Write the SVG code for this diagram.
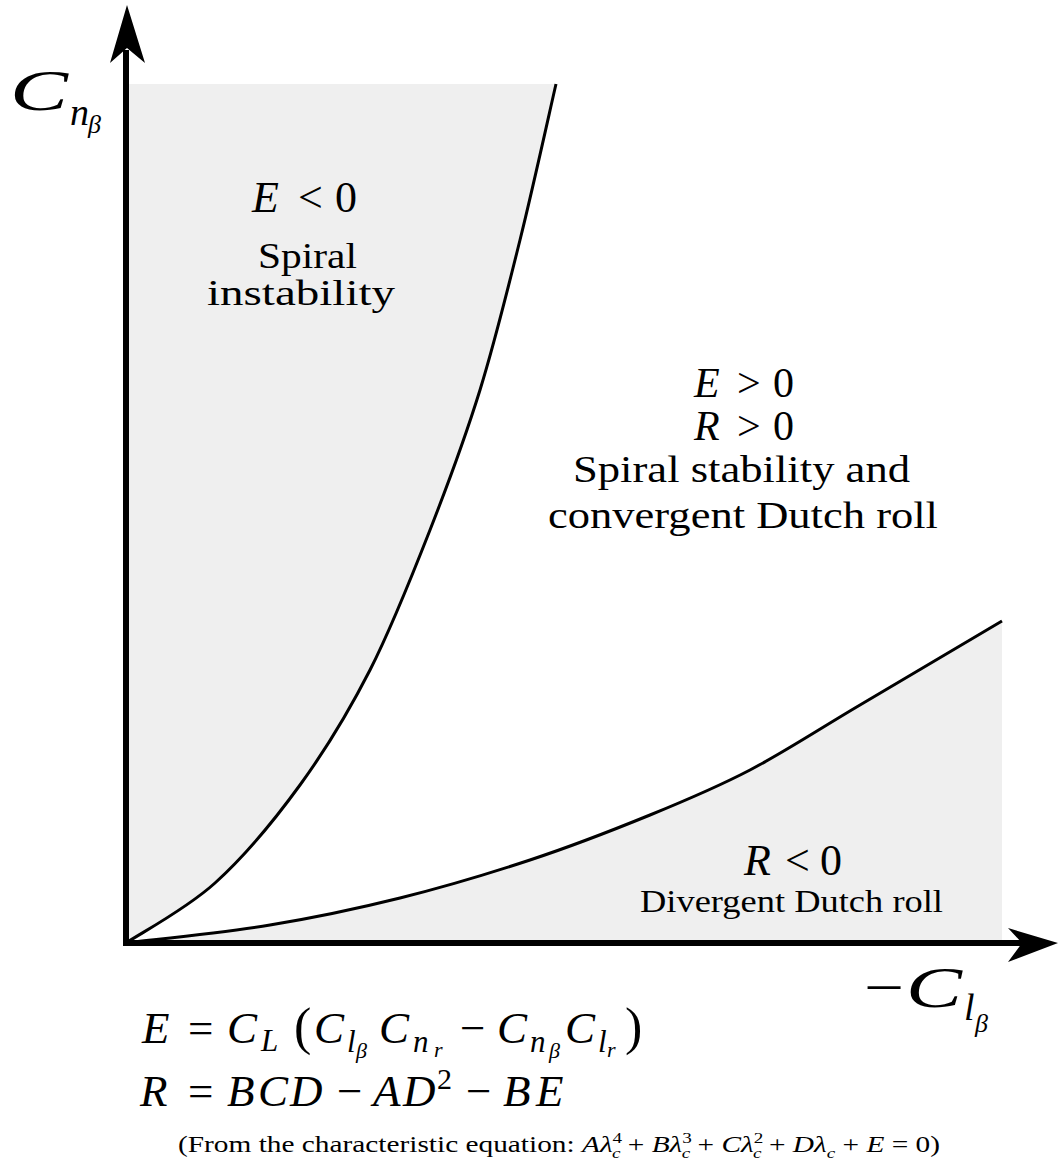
<svg xmlns="http://www.w3.org/2000/svg" width="1058" height="1161" viewBox="0 0 1058 1161">
<style>
text{font-family:"Liberation Serif","DejaVu Serif",serif;fill:#000}
.i{font-style:italic}
.m{font-size:44px}
.m2{font-size:42px}
.f{font-size:45px}
.s1{font-size:31px;font-style:italic}
.s2{font-size:22px;font-style:italic}
.curve{fill:none;stroke:#000;stroke-width:3}
.shade{fill:#efefef;stroke:none}
.axis{stroke:#000;stroke-width:6;fill:none}
</style>
<rect width="1058" height="1161" fill="#fff"/>
<g id="regions">
<path class="shade" d="M126,943 C140.8,933 186,909.3 215,883 C244,856.7 274.2,820.5 300,785 C325.8,749.5 348.3,712.5 370,670 C391.7,627.5 411.7,576.7 430,530 C448.3,483.3 465,438.3 480,390 C495,341.7 507.3,291 520,240 C532.7,189 550,110 556,84 L129,84 L129,943 Z"/>
<path class="shade" d="M126,943 C150,940 224.3,932.5 270,925 C315.7,917.5 356.7,908.8 400,898 C443.3,887.2 488.3,873.8 530,860 C571.7,846.2 613.3,830 650,815 C686.7,800 715,788.3 750,770 C785,751.7 818,729.8 860,705 C902,680.2 978.3,635 1002,621 L1002,940 L126,940 Z"/>
</g>
<g id="connectors">
<path class="curve" d="M126,943 C140.8,933 186,909.3 215,883 C244,856.7 274.2,820.5 300,785 C325.8,749.5 348.3,712.5 370,670 C391.7,627.5 411.7,576.7 430,530 C448.3,483.3 465,438.3 480,390 C495,341.7 507.3,291 520,240 C532.7,189 550,110 556,84"/>
<path class="curve" d="M126,943 C150,940 224.3,932.5 270,925 C315.7,917.5 356.7,908.8 400,898 C443.3,887.2 488.3,873.8 530,860 C571.7,846.2 613.3,830 650,815 C686.7,800 715,788.3 750,770 C785,751.7 818,729.8 860,705 C902,680.2 978.3,635 1002,621"/>
<path class="axis" d="M126,946 L126,50"/>
<path class="axis" d="M123,943 L1025,943"/>
<path d="M127,5 L145,63 L127,48 L110,63 Z" fill="#000"/>
<path d="M1058,943 L1008,928 L1022,943 L1008,962 Z" fill="#000"/>
</g>
<g id="y-label">
<text x="10" y="110" class="i" font-size="58" textLength="58" lengthAdjust="spacingAndGlyphs">C</text>
<text x="70" y="125" class="i" font-size="38">n</text>
<text x="88" y="133" class="i" font-size="26">β</text>
</g>
<g id="x-label">
<text x="864" y="1007" font-size="58" textLength="40" lengthAdjust="spacingAndGlyphs">−</text>
<text x="906" y="1007" class="i" font-size="58" textLength="56" lengthAdjust="spacingAndGlyphs">C</text>
<text x="964" y="1020" class="i" font-size="38">l</text>
<text x="975" y="1032" class="i" font-size="26">β</text>
</g>
<g id="region-spiral-instability">
<text y="212" class="m"><tspan x="252" class="i">E</tspan><tspan x="298">&lt;</tspan><tspan x="335">0</tspan></text>
<text x="258" y="268" font-size="35" textLength="99" lengthAdjust="spacingAndGlyphs">Spiral</text>
<text x="207" y="305" font-size="35" textLength="188" lengthAdjust="spacingAndGlyphs">instability</text>
</g>
<g id="region-stable">
<text y="397" class="m2"><tspan x="694" class="i">E</tspan><tspan x="737">&gt;</tspan><tspan x="773">0</tspan></text>
<text y="440" class="m2"><tspan x="694" class="i">R</tspan><tspan x="737">&gt;</tspan><tspan x="773">0</tspan></text>
<text x="573" y="482" font-size="38" textLength="337" lengthAdjust="spacingAndGlyphs">Spiral stability and</text>
<text x="548" y="528" font-size="38" textLength="390" lengthAdjust="spacingAndGlyphs">convergent Dutch roll</text>
</g>
<g id="region-divergent">
<text y="875" class="m"><tspan x="744" class="i">R</tspan><tspan x="785">&lt;</tspan><tspan x="820">0</tspan></text>
<text x="640" y="912" font-size="32" textLength="303" lengthAdjust="spacingAndGlyphs">Divergent Dutch roll</text>
</g>
<g id="formula-E">
<text class="f"><tspan x="142" y="1043" class="i">E</tspan><tspan x="188" y="1043">=</tspan><tspan x="227" y="1043" class="i">C</tspan><tspan x="261" y="1051" class="s1">L</tspan><tspan x="294" y="1044" font-size="52">(</tspan><tspan x="314" y="1043" class="i">C</tspan><tspan x="347" y="1052" class="s1">l</tspan><tspan x="356" y="1058" class="s2">β</tspan><tspan x="379" y="1043" class="i">C</tspan><tspan x="413" y="1052" class="s1">n</tspan><tspan x="434" y="1057" class="s2">r</tspan><tspan x="460" y="1043">−</tspan><tspan x="497" y="1043" class="i">C</tspan><tspan x="530" y="1052" class="s1">n</tspan><tspan x="549" y="1058" class="s2">β</tspan><tspan x="565" y="1043" class="i">C</tspan><tspan x="598" y="1052" class="s1">l</tspan><tspan x="607" y="1057" class="s2">r</tspan><tspan x="625" y="1044" font-size="52">)</tspan></text>
</g>
<g id="formula-R">
<text class="f"><tspan x="140" y="1106" class="i">R</tspan><tspan x="188" y="1106">=</tspan><tspan x="227" y="1106" class="i">B</tspan><tspan x="258" y="1106" class="i">C</tspan><tspan x="290" y="1106" class="i">D</tspan><tspan x="337" y="1106">−</tspan><tspan x="373" y="1106" class="i">A</tspan><tspan x="403" y="1106" class="i">D</tspan><tspan x="437" y="1089" font-size="30">2</tspan><tspan x="466" y="1106">−</tspan><tspan x="503" y="1106" class="i">B</tspan><tspan x="536" y="1106" class="i">E</tspan></text>
</g>
<g id="caption">
<text x="178" y="1152" font-size="23" textLength="762" lengthAdjust="spacingAndGlyphs">(From the characteristic equation: <tspan class="i">Aλ</tspan><tspan font-size="15" dy="-9">4</tspan><tspan class="i" font-size="15" dx="-8" dy="15">c</tspan><tspan dy="-6"> + </tspan><tspan class="i">Bλ</tspan><tspan font-size="15" dy="-9">3</tspan><tspan class="i" font-size="15" dx="-8" dy="15">c</tspan><tspan dy="-6"> + </tspan><tspan class="i">Cλ</tspan><tspan font-size="15" dy="-9">2</tspan><tspan class="i" font-size="15" dx="-8" dy="15">c</tspan><tspan dy="-6"> + </tspan><tspan class="i">Dλ</tspan><tspan class="i" font-size="15" dy="6">c</tspan><tspan dy="-6"> + </tspan><tspan class="i">E</tspan> = 0)</text>
</g>
</svg>
